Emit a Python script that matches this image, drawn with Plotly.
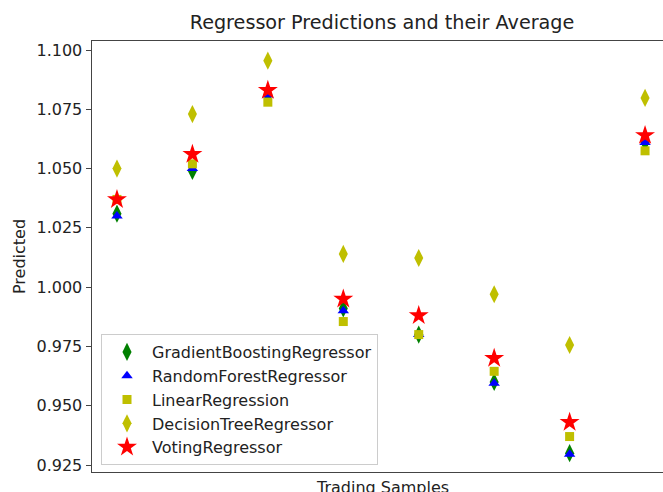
import plotly.graph_objects as go

samples = [0, 1, 2, 3, 4, 5, 6, 7]
gradient_boosting = [1.031, 1.049, 1.081, 0.991, 0.980, 0.960, 0.930, 1.061]
random_forest = [1.030, 1.050, 1.081, 0.990, 0.980, 0.9595, 0.9295, 1.061]
linear_regression = [1.037, 1.052, 1.078, 0.9855, 0.980, 0.9645, 0.937, 1.0575]
decision_tree = [1.050, 1.073, 1.0955, 1.014, 1.0123, 0.997, 0.9756, 1.0798]
voting = [1.037, 1.056, 1.083, 0.995, 0.988, 0.970, 0.943, 1.064]

y_ticks = [0.925, 0.950, 0.975, 1.000, 1.025, 1.050, 1.075, 1.100]

FONT = "DejaVu Sans"
FS = 16
W, H = 663, 492
L, T, B, R = 92, 41, 20, 0

fig = go.Figure()
series = [
    ("GradientBoostingRegressor", gradient_boosting, "diamond-tall", "#008000", 13),
    ("RandomForestRegressor", random_forest, "triangle-up", "#0000ff", 10),
    ("LinearRegression", linear_regression, "square", "#bfbf00", 9),
    ("DecisionTreeRegressor", decision_tree, "diamond-tall", "#bfbf00", 13),
    ("VotingRegressor", voting, "star", "#ff0000", 15),
]
for i, (name, vals, sym, col, sz) in enumerate(series):
    fig.add_trace(go.Scatter(
        x=samples, y=vals, mode="markers", name=name,
        marker=dict(symbol=sym, color=col, size=sz, line=dict(width=0)),
    ))

fig.update_layout(
    width=W, height=H,
    margin=dict(l=L, r=R, t=T, b=B, pad=0),
    paper_bgcolor="white", plot_bgcolor="white",
    font=dict(family=FONT, size=FS, color="#222"),
    title=dict(text="Regressor Predictions and their Average",
               x=(382) / W, xanchor="center", y=1 - 22 / H, yanchor="middle",
               font=dict(family=FONT, size=19.2, color="#222")),
    xaxis=dict(range=[-0.331, 7.238], showgrid=False, zeroline=False,
               showticklabels=False, ticks="", showline=True, linecolor="#444",
               linewidth=1, mirror=True),
    yaxis=dict(range=[0.92205, 1.1038], showgrid=False, zeroline=False,
               tickvals=y_ticks, ticktext=[f"{v:.3f}" for v in y_ticks],
               ticks="outside", ticklen=5.5, tickwidth=1, tickcolor="#444",
               showline=True, linecolor="#444", linewidth=1,
               tickfont=dict(family=FONT, size=FS, color="#222"),
               title=dict(text="Predicted", standoff=6,
                          font=dict(family=FONT, size=FS, color="#222"))),
    legend=dict(x=(101 - L) / (W - L - R), y=(472 - 465) / (H - T - B),
                xanchor="left", yanchor="bottom",
                bgcolor="rgba(255,255,255,0.8)", bordercolor="#cccccc",
                borderwidth=1, tracegroupgap=0, itemwidth=40,
                font=dict(family=FONT, size=FS, color="#222")),
    showlegend=True,
)
fig.add_annotation(text="Trading Samples", xref="paper", yref="paper",
                   x=(382 - L) / (W - L - R), y=-4 / (H - T - B),
                   xanchor="center", yanchor="top", showarrow=False,
                   font=dict(family=FONT, size=FS, color="#222"))

fig.write_html("out.html")
